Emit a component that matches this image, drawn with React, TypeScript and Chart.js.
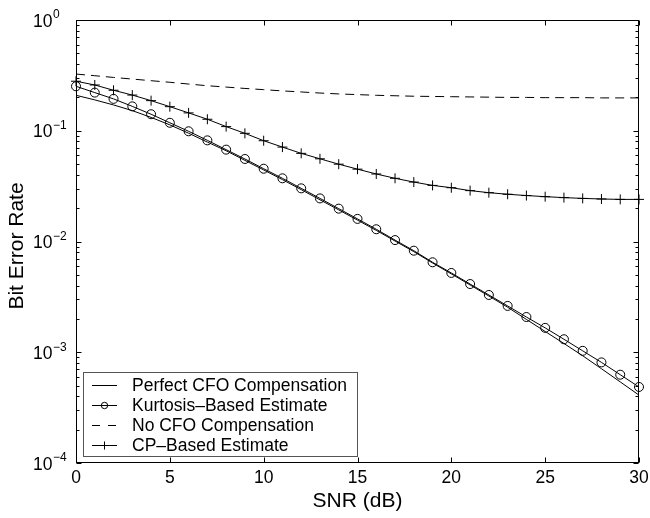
import React, { useEffect, useRef } from "react";
import { Chart, registerables } from "chart.js";

Chart.register(...registerables);

// ---------- data ----------
const snr = [0, 1, 2, 3, 4, 5, 6, 7, 8, 9, 10, 11, 12, 13, 14, 15, 16, 17, 18, 19, 20, 21, 22, 23, 24, 25, 26, 27, 28, 29, 30];

const perfectCFO = [
  0.209, 0.19, 0.171, 0.152, 0.132, 0.113, 0.095, 0.079, 0.066, 0.054, 0.0443,
  0.0362, 0.0294, 0.0238, 0.0193, 0.0156, 0.0126, 0.0101, 0.0081, 0.0064, 0.0051,
  0.00405, 0.00322, 0.00255, 0.00198, 0.00154, 0.0012, 0.00093, 0.00071, 0.00054, 0.00041,
];

const kurtosisEst = [
  0.252, 0.221, 0.194, 0.166, 0.141, 0.118, 0.0989, 0.0819, 0.0675, 0.0556, 0.0454,
  0.0372, 0.0302, 0.0245, 0.0198, 0.016, 0.0129, 0.0103, 0.00826, 0.00649, 0.0052,
  0.00413, 0.00329, 0.00262, 0.00208, 0.00166, 0.00131, 0.00103, 0.00081, 0.000627, 0.000486,
];

const noCFO = [
  0.325, 0.314, 0.303, 0.293, 0.283, 0.274, 0.264, 0.255, 0.248, 0.241, 0.235,
  0.229, 0.224, 0.219, 0.215, 0.212, 0.209, 0.207, 0.205, 0.204, 0.203,
  0.202, 0.201, 0.2, 0.2, 0.199, 0.199, 0.199, 0.198, 0.198, 0.198,
];

const cpEst = [
  0.28, 0.259, 0.232, 0.21, 0.187, 0.165, 0.145, 0.127, 0.109, 0.0948, 0.0813,
  0.0712, 0.0625, 0.0558, 0.0499, 0.045, 0.0407, 0.0372, 0.0344, 0.0321, 0.0306,
  0.0288, 0.0276, 0.0267, 0.026, 0.0254, 0.0249, 0.0245, 0.0242, 0.024, 0.024,
];

const seriesLabels = [
  "Perfect CFO Compensation",
  "Kurtosis\u2013Based Estimate",
  "No CFO Compensation",
  "CP\u2013Based Estimate",
];

const xTickValues = [0, 5, 10, 15, 20, 25, 30];
const xTickLabels = ["0", "5", "10", "15", "20", "25", "30"];
const yDecades = [-4, -3, -2, -1, 0];
const yExpLabels = ["\u22124", "\u22123", "\u22122", "\u22121", "0"];
const xTitle = "SNR (dB)";
const yTitle = "Bit Error Rate";

const FONT = '"Liberation Sans", Arial, Helvetica, sans-serif';

const matlabPlugin = {
  id: "matlabFrame",
  afterDraw(chart: any) {
    const { ctx, chartArea } = chart;
    const xs = chart.scales.x;
    const ys = chart.scales.y;
    const L = Math.round(chartArea.left) + 0.5;
    const R = Math.round(chartArea.right) - 0.5;
    const T = Math.round(chartArea.top) + 0.5;
    const B = Math.round(chartArea.bottom) - 0.5;
    ctx.save();
    ctx.strokeStyle = "#000";
    ctx.lineWidth = 1;
    ctx.setLineDash([]);
    ctx.strokeRect(L, T, R - L, B - T);

    // x ticks (inward, top and bottom)
    ctx.beginPath();
    xTickValues.forEach((v) => {
      const px = Math.round(xs.getPixelForValue(v)) + 0.5;
      ctx.moveTo(px, B);
      ctx.lineTo(px, B - 5);
      ctx.moveTo(px, T);
      ctx.lineTo(px, T + 5);
    });
    // y ticks (major + minor)
    yDecades.forEach((d) => {
      const py = Math.round(ys.getPixelForValue(Math.pow(10, d))) + 0.5;
      ctx.moveTo(L, py);
      ctx.lineTo(L + 5, py);
      ctx.moveTo(R, py);
      ctx.lineTo(R - 5, py);
      if (d < 0) {
        for (let m = 2; m <= 9; m++) {
          const my = Math.round(ys.getPixelForValue(m * Math.pow(10, d))) + 0.5;
          ctx.moveTo(L, my);
          ctx.lineTo(L + 3, my);
          ctx.moveTo(R, my);
          ctx.lineTo(R - 3, my);
        }
      }
    });
    ctx.stroke();

    // labels
    ctx.fillStyle = "#000";
    ctx.textBaseline = "alphabetic";
    ctx.font = `17.5px ${FONT}`;
    ctx.textAlign = "center";
    xTickValues.forEach((v, i) => {
      ctx.fillText(xTickLabels[i], xs.getPixelForValue(v), 483);
    });

    yDecades.forEach((d, i) => {
      const py = ys.getPixelForValue(Math.pow(10, d));
      ctx.font = `17.5px ${FONT}`;
      ctx.textAlign = "left";
      ctx.fillText("10", 33, py + 6.7);
      const w = ctx.measureText("10").width;
      ctx.font = `12px ${FONT}`;
      ctx.fillText(yExpLabels[i], 33 + w + 0.5, py - 1.7);
    });

    // titles
    ctx.font = `21px ${FONT}`;
    ctx.textAlign = "center";
    ctx.fillText(xTitle, (chartArea.left + chartArea.right) / 2, 507);
    ctx.save();
    ctx.translate(23, 246);
    ctx.rotate(-Math.PI / 2);
    ctx.fillText(yTitle, 0, 0);
    ctx.restore();

    // legend
    const bx = 83.5, by = 372.5, bw = 274, bh = 84;
    ctx.fillStyle = "#fff";
    ctx.fillRect(bx, by, bw, bh);
    ctx.strokeStyle = "#555";
    ctx.strokeRect(bx, by, bw, bh);
    const rows = [385, 405, 425, 445];
    chart.data.datasets.forEach((ds: any, i: number) => {
      const ry = rows[i] + 0.5;
      ctx.strokeStyle = "#000";
      ctx.lineWidth = 1;
      ctx.setLineDash(i === 2 ? [8, 8] : []);
      ctx.beginPath();
      ctx.moveTo(92, ry);
      ctx.lineTo(117, ry);
      ctx.stroke();
      ctx.setLineDash([]);
      if (ds.pointStyle === "circle") {
        ctx.beginPath();
        ctx.arc(104.5, ry, 3.2, 0, Math.PI * 2);
        ctx.stroke();
      } else if (ds.pointStyle === "cross") {
        ctx.beginPath();
        ctx.moveTo(104.5, ry - 4);
        ctx.lineTo(104.5, ry + 4);
        ctx.stroke();
      }
      ctx.fillStyle = "#000";
      ctx.font = `17.5px ${FONT}`;
      ctx.textAlign = "left";
      ctx.fillText(ds.label, 132, rows[i] + 6);
    });
    ctx.restore();
  },
};

export default function App() {
  const ref = useRef<HTMLCanvasElement | null>(null);

  useEffect(() => {
    if (!ref.current) return;
    const pts = (arr: number[]) => snr.map((x, i) => ({ x, y: arr[i] }));
    const chart = new Chart(ref.current, {
      type: "line",
      data: {
        datasets: [
          {
            label: seriesLabels[0],
            data: pts(perfectCFO),
            borderColor: "#000",
            borderWidth: 1,
            pointRadius: 0,
            tension: 0,
            clip: false,
          },
          {
            label: seriesLabels[1],
            data: pts(kurtosisEst),
            borderColor: "#000",
            borderWidth: 1,
            pointStyle: "circle",
            pointRadius: 4.5,
            pointBorderColor: "#000",
            pointBackgroundColor: "rgba(0,0,0,0)",
            pointBorderWidth: 1,
            tension: 0,
            clip: false,
          },
          {
            label: seriesLabels[2],
            data: pts(noCFO),
            borderColor: "#000",
            borderWidth: 1,
            borderDash: [9, 6],
            pointRadius: 0,
            tension: 0,
            clip: false,
          },
          {
            label: seriesLabels[3],
            data: pts(cpEst),
            borderColor: "#000",
            borderWidth: 1,
            pointStyle: "cross",
            pointRadius: 5,
            pointBorderColor: "#000",
            pointBorderWidth: 1,
            tension: 0,
            clip: false,
          },
        ] as any,
      },
      options: {
        responsive: false,
        animation: false,
        layout: { padding: { left: 76, right: 11, top: 20, bottom: 55 } },
        scales: {
          x: { type: "linear", min: 0, max: 30, display: false },
          y: { type: "logarithmic", min: 1e-4, max: 1, display: false },
        },
        plugins: {
          legend: { display: false },
          tooltip: { enabled: false },
        },
      },
      plugins: [matlabPlugin],
    });
    return () => chart.destroy();
  }, []);

  return (
    <div style={{ position: "absolute", left: 0, top: 0, width: 650, height: 518, background: "#fff" }}>
      <canvas ref={ref} width={650} height={518} style={{ display: "block" }} />
    </div>
  );
}
